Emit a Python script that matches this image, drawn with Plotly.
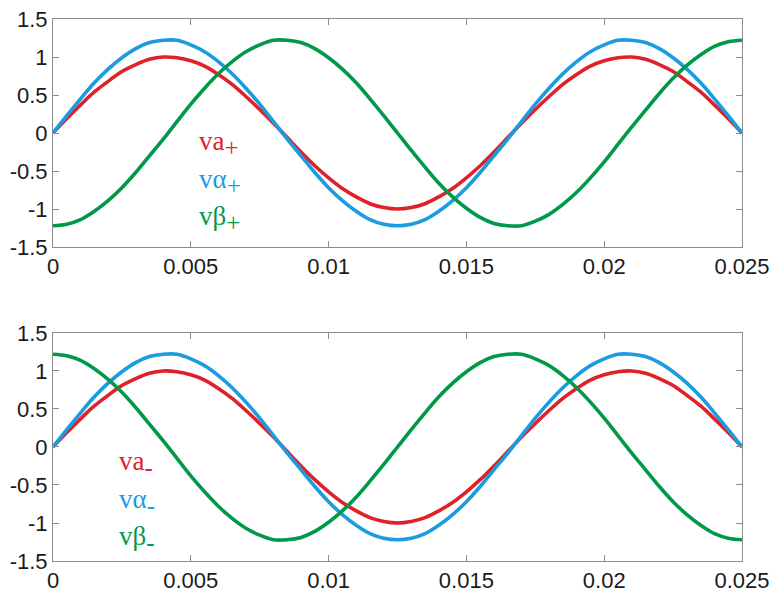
import plotly.graph_objects as go
from plotly.subplots import make_subplots

# time samples (s)
t = [round(i * 0.0005, 4) for i in range(51)]

va = [0.00, 0.19, 0.37, 0.54, 0.68, 0.81, 0.90, 0.97, 1.00, 0.99, 0.95, 0.88, 0.77, 0.64, 0.48, 0.31, 0.13,
      -0.06, -0.25, -0.43, -0.59, -0.73, -0.84, -0.93, -0.98, -1.00, -0.98, -0.93, -0.84, -0.73, -0.59, -0.43,
      -0.25, -0.06, 0.13, 0.31, 0.48, 0.64, 0.77, 0.88, 0.95, 0.99, 1.00, 0.97, 0.90, 0.81, 0.68, 0.54, 0.37,
      0.19, 0.00]

valpha = [0.00, 0.23, 0.45, 0.66, 0.84, 0.99, 1.11, 1.19, 1.22, 1.22, 1.16, 1.07, 0.94, 0.78, 0.59, 0.38, 0.15,
          -0.08, -0.30, -0.52, -0.72, -0.89, -1.03, -1.14, -1.20, -1.22, -1.20, -1.14, -1.03, -0.89, -0.72, -0.52,
          -0.30, -0.08, 0.15, 0.38, 0.59, 0.78, 0.94, 1.07, 1.16, 1.22, 1.22, 1.19, 1.11, 0.99, 0.84, 0.66, 0.45,
          0.23, 0.00]

vbeta_plus = [-1.22, -1.20, -1.14, -1.03, -0.89, -0.72, -0.52, -0.30, -0.08, 0.15, 0.38, 0.59, 0.78, 0.94, 1.07,
              1.16, 1.22, 1.22, 1.19, 1.11, 0.99, 0.84, 0.66, 0.45, 0.23, 0.00, -0.23, -0.45, -0.66, -0.84, -0.99,
              -1.11, -1.19, -1.22, -1.22, -1.16, -1.07, -0.94, -0.78, -0.59, -0.38, -0.15, 0.08, 0.30, 0.52, 0.72,
              0.89, 1.03, 1.14, 1.20, 1.22]

vbeta_minus = [1.22, 1.20, 1.14, 1.03, 0.89, 0.72, 0.52, 0.30, 0.08, -0.15, -0.38, -0.59, -0.78, -0.94, -1.07,
               -1.16, -1.22, -1.22, -1.19, -1.11, -0.99, -0.84, -0.66, -0.45, -0.23, 0.00, 0.23, 0.45, 0.66, 0.84,
               0.99, 1.11, 1.19, 1.22, 1.22, 1.16, 1.07, 0.94, 0.78, 0.59, 0.38, 0.15, -0.08, -0.30, -0.52, -0.72,
               -0.89, -1.03, -1.14, -1.20, -1.22]

x_ticks = [0, 0.005, 0.01, 0.015, 0.02, 0.025]
x_tick_text = ["0", "0.005", "0.01", "0.015", "0.02", "0.025"]
y_ticks = [-1.5, -1, -0.5, 0, 0.5, 1, 1.5]
y_tick_text = ["-1.5", "-1", "-0.5", "0", "0.5", "1", "1.5"]

SUB = '<sub><span style="font-size:25px">{}</span></sub>'
labels_top = ["va" + SUB.format("+"), "vα" + SUB.format("+"), "vβ" + SUB.format("+")]
labels_bottom = ["va" + SUB.format("-"), "vα" + SUB.format("-"), "vβ" + SUB.format("-")]

RED = "#df2229"
BLUE = "#1b9be0"
GREEN = "#00994a"
colors = [RED, BLUE, GREEN]

fig = make_subplots(rows=2, cols=1, vertical_spacing=0.1586)

top_series = [va, valpha, vbeta_plus]
bot_series = [va, valpha, vbeta_minus]
for row, series in ((1, top_series), (2, bot_series)):
    for ys, c in zip(series, colors):
        fig.add_trace(go.Scatter(x=t, y=ys, mode="lines", line=dict(color=c, width=3.6, shape="spline"),
                                 showlegend=False, hoverinfo="skip"), row=row, col=1)

axis_common = dict(showline=True, linecolor="#8c8c8c", linewidth=1, mirror="ticks", ticks="inside",
                   ticklen=6, tickwidth=1, tickcolor="#8c8c8c", showgrid=False, zeroline=False,
                   automargin=False,
                   tickfont=dict(family="Liberation Sans, Arial", size=22, color="#1a1a1a"))

for row in (1, 2):
    fig.update_xaxes(range=[0, 0.025], tickvals=x_ticks, ticktext=x_tick_text, row=row, col=1, **axis_common)
    fig.update_yaxes(range=[-1.5, 1.5], tickvals=y_ticks, ticktext=y_tick_text, row=row, col=1, **axis_common)

fig.update_layout(yaxis=dict(domain=[0.5793, 1.0]), yaxis2=dict(domain=[0.0, 0.4207]))

ann_font = dict(family="Liberation Serif, Times New Roman", size=27)
top_pos = [(0.00524, -0.14), (0.00524, -0.64), (0.00524, -1.13)]
bot_pos = [(0.00233, -0.22), (0.00233, -0.72), (0.00233, -1.21)]
for (lbls, pos, xr, yr) in ((labels_top, top_pos, "x", "y"), (labels_bottom, bot_pos, "x2", "y2")):
    for txt, (px, py), c in zip(lbls, pos, colors):
        fig.add_annotation(x=px, y=py, xref=xr, yref=yr, text=txt, showarrow=False,
                           xanchor="left", yanchor="middle", font=dict(color=c, **ann_font))

fig.update_layout(width=770, height=593, margin=dict(l=53, r=28, t=19, b=32),
                  plot_bgcolor="white", paper_bgcolor="white")

fig.write_html("out.html")
